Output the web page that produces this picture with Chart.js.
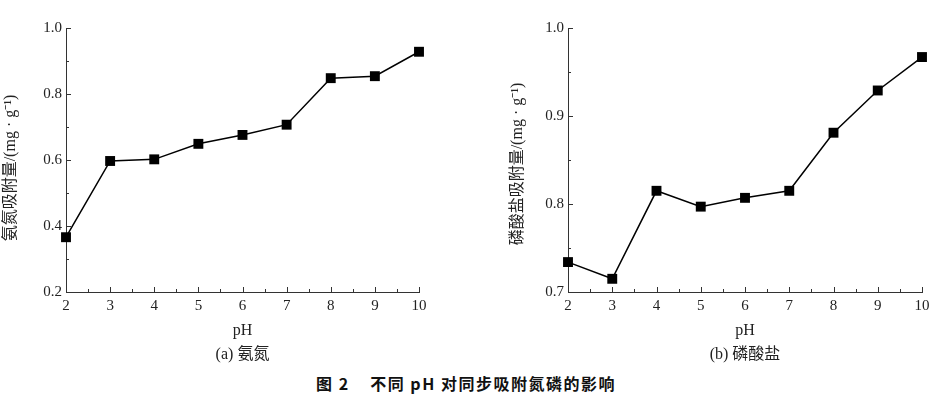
<!DOCTYPE html>
<html>
<head>
<meta charset="utf-8">
<script src="https://cdn.jsdelivr.net/npm/chart.js@4.4.1/dist/chart.umd.min.js"></script>
<style>
  body { margin: 0; background: #fff; width: 944px; height: 395px; position: relative; overflow: hidden; }
  .box { position: absolute; top: 0; height: 366px; }
  #boxA { left: 0; width: 470px; }
  #boxB { left: 472px; width: 472px; }
  #caption {
    position: absolute; left: 0; width: 932px; top: 371px; text-align: center;
    font-family: "Noto Sans CJK SC", sans-serif; font-weight: bold; font-size: 16px; color: #111;
    letter-spacing: 1.5px;
  }
</style>
</head>
<body>
<div class="box" id="boxA"><canvas id="chartA"></canvas></div>
<div class="box" id="boxB"><canvas id="chartB"></canvas></div>
<div id="caption">图 2&nbsp;&nbsp;&nbsp;&nbsp;不同 pH 对同步吸附氮磷的影响</div>
<script>
const phValues = [2, 3, 4, 5, 6, 7, 8, 9, 10];
const ammoniaValues = [0.366, 0.597, 0.602, 0.649, 0.676, 0.707, 0.848, 0.854, 0.928];
const phosphateValues = [0.734, 0.715, 0.815, 0.797, 0.807, 0.815, 0.881, 0.929, 0.967];
const ammoniaTicks = [0.2, 0.4, 0.6, 0.8, 1.0];
const phosphateTicks = [0.7, 0.8, 0.9, 1.0];

const serif = "'Liberation Serif', 'Noto Sans CJK SC', serif";
const inkColor = "#222";

// tick marks point into the plot, like the original figure
const inwardTicks = {
    id: "inwardTicks",
    afterDraw(chart) {
        const ctx = chart.ctx;
        const area = chart.chartArea;
        ctx.save();
        ctx.strokeStyle = "#333";
        ctx.lineWidth = 1;
        ctx.beginPath();
        chart.scales.x.ticks.forEach(function(t) {
            const px = Math.round(chart.scales.x.getPixelForValue(t.value)) + 0.5;
            const len = Number.isInteger(t.value) ? 5 : 3;
            ctx.moveTo(px, area.bottom);
            ctx.lineTo(px, area.bottom - len);
        });
        chart.scales.y.ticks.forEach(function(t) {
            const py = Math.round(chart.scales.y.getPixelForValue(t.value)) + 0.5;
            const len = t.label !== "" ? 5 : 3;
            ctx.moveTo(area.left, py);
            ctx.lineTo(area.left + len, py);
        });
        ctx.stroke();
        ctx.restore();
    }
};

function makeChart(canvasId, values, yMin, yMax, step, labelTicks, yTitle, xCaption, padLeft, yWidth, padRight) {
    const points = phValues.map(function(p, i) { return { x: p, y: values[i] }; });
    return new Chart(document.getElementById(canvasId), {
        type: "line",
        data: {
            datasets: [{
                data: points,
                borderColor: "#000",
                borderWidth: 1.5,
                backgroundColor: "#000",
                pointStyle: "rect",
                pointRadius: 7,
                pointHoverRadius: 7,
                pointBorderWidth: 0,
                tension: 0,
                clip: false
            }]
        },
        options: {
            responsive: true,
            maintainAspectRatio: false,
            animation: false,
            layout: { padding: { top: 28, right: padRight, bottom: 0, left: padLeft } },
            plugins: { legend: { display: false }, tooltip: { enabled: false } },
            scales: {
                x: {
                    type: "linear",
                    min: 2,
                    max: 10,
                    grid: { display: false, drawTicks: false },
                    border: { display: true, color: "#333", width: 1 },
                    ticks: {
                        stepSize: 0.5,
                        autoSkip: false,
                        maxRotation: 0,
                        padding: 5,
                        color: inkColor,
                        font: { family: serif, size: 15 },
                        callback: function(v) { return Number.isInteger(v) ? String(v) : ""; }
                    },
                    title: {
                        display: true,
                        text: ["pH", xCaption],
                        color: inkColor,
                        padding: 0,
                        font: { family: serif, size: 16, lineHeight: 1.45 }
                    },
                    afterFit: function(scale) { scale.height = 366 - 292; }
                },
                y: {
                    min: yMin,
                    max: yMax,
                    grid: { display: false, drawTicks: false },
                    border: { display: true, color: "#333", width: 1 },
                    ticks: {
                        stepSize: step,
                        autoSkip: false,
                        padding: 4,
                        color: inkColor,
                        font: { family: serif, size: 15 },
                        callback: function(v) {
                            const hit = labelTicks.some(function(t) { return Math.abs(t - v) < 1e-6; });
                            return hit ? v.toFixed(1) : "";
                        }
                    },
                    title: {
                        display: true,
                        text: yTitle,
                        color: inkColor,
                        padding: { top: 1, bottom: 0 },
                        font: { family: serif, size: 16, lineHeight: 1.2 }
                    },
                    afterFit: function(scale) { scale.width = yWidth; }
                }
            }
        },
        plugins: [inwardTicks]
    });
}

makeChart("chartA", ammoniaValues, 0.2, 1.0, 0.1, ammoniaTicks,
    "氨氮吸附量/(mg · g⁻¹)    ", "(a) 氨氮", 0, 66, 51);
makeChart("chartB", phosphateValues, 0.7, 1.0, 0.05, phosphateTicks,
    "磷酸盐吸附量/(mg · g⁻¹)  ", "(b) 磷酸盐", 35, 61, 22);
</script>
</body>
</html>
